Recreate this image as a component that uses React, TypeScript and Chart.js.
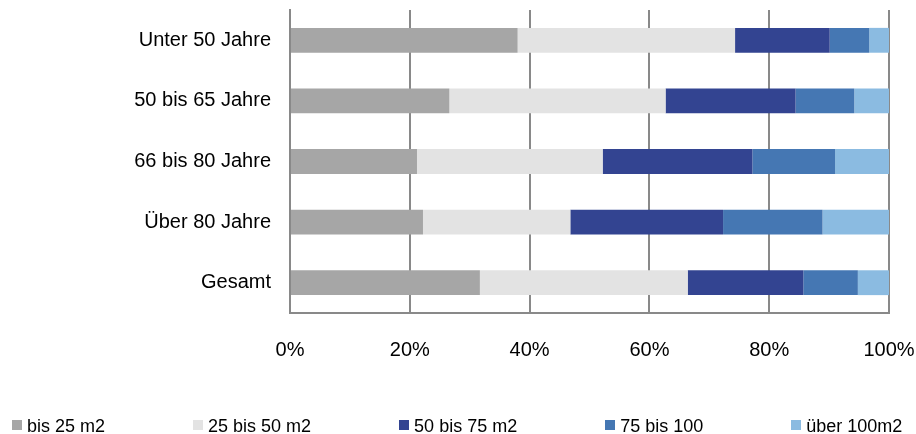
import React, { useEffect, useRef } from "react";
import { Chart, registerables } from "chart.js";

Chart.register(...registerables);

const categories = ["Unter 50 Jahre", "50 bis 65 Jahre", "66 bis 80 Jahre", "Über 80 Jahre", "Gesamt"];
const seriesNames = ["bis 25 m2", "25 bis 50 m2", "50 bis 75 m2", "75 bis 100", "über 100m2"];
const bis25 = [38.0, 26.6, 21.2, 22.2, 31.7];
const von25bis50 = [36.3, 36.1, 31.0, 24.6, 34.7];
const von50bis75 = [15.8, 21.7, 25.0, 25.5, 19.3];
const von75bis100 = [6.6, 9.8, 13.8, 16.6, 9.1];
const ueber100 = [3.3, 5.8, 9.0, 11.1, 5.2];
const xTicks = [0, 20, 40, 60, 80, 100];

const colors = ["#A6A6A6", "#E3E3E3", "#334491", "#4577B3", "#8BBBE1"];
const FONT = "'Liberation Sans', Arial, sans-serif";
const GRID = "#898989";

export default function App() {
  const ref = useRef<HTMLCanvasElement | null>(null);

  useEffect(() => {
    if (!ref.current) return;
    const values = [bis25, von25bis50, von50bis75, von75bis100, ueber100];
    const chart = new Chart(ref.current, {
      type: "bar",
      data: {
        labels: categories,
        datasets: values.map((v, i) => ({
          label: seriesNames[i],
          data: v,
          backgroundColor: colors[i],
          borderWidth: 0,
          barPercentage: 0.41,
          categoryPercentage: 1,
        })),
      },
      options: {
        indexAxis: "y",
        animation: false,
        responsive: false,
        layout: { padding: { top: 10, right: 27, left: 0, bottom: 0 } },
        plugins: {
          legend: { display: false },
          tooltip: { enabled: false },
        },
        scales: {
          x: {
            stacked: true,
            min: 0,
            max: 100,
            afterBuildTicks: (s: any) => {
              s.ticks = xTicks.map((v) => ({ value: v }));
            },
            ticks: {
              callback: (v: any) => v + "%",
              color: "#000",
              font: { family: FONT, size: 20 },
              padding: 25,
              maxRotation: 0,
            },
            grid: { color: GRID, lineWidth: 2, drawTicks: false },
            border: { display: true, color: GRID, width: 2 },
            afterFit: (s: any) => {
              s.height = 121;
              s.paddingLeft = 0;
              s.paddingRight = 0;
            },
          },
          y: {
            stacked: true,
            ticks: {
              color: "#000",
              font: { family: FONT, size: 20 },
              padding: 19,
            },
            grid: { display: false, drawTicks: false },
            border: { display: true, color: GRID, width: 2 },
            afterFit: (s: any) => {
              s.width = 290;
              s.paddingTop = 0;
              s.paddingBottom = 0;
            },
          },
        },
      },
    });
    return () => chart.destroy();
  }, []);

  return (
    <div style={{ position: "fixed", left: 0, top: 0, width: 916, height: 434, background: "#fff" }}>
      <canvas ref={ref} width={916} height={434} style={{ display: "block" }} />
      <div
        style={{
          position: "absolute",
          left: 12,
          top: 416,
          display: "flex",
          gap: 88,
          fontFamily: FONT,
          fontSize: 18,
          lineHeight: "20px",
          color: "#000",
          whiteSpace: "nowrap",
        }}
      >
        {seriesNames.map((n, i) => (
          <div key={n} style={{ display: "flex", alignItems: "flex-start" }}>
            <span
              style={{
                display: "inline-block",
                width: 10,
                height: 10,
                marginTop: 4,
                marginRight: 5,
                background: colors[i],
              }}
            />
            <span>{n}</span>
          </div>
        ))}
      </div>
    </div>
  );
}
